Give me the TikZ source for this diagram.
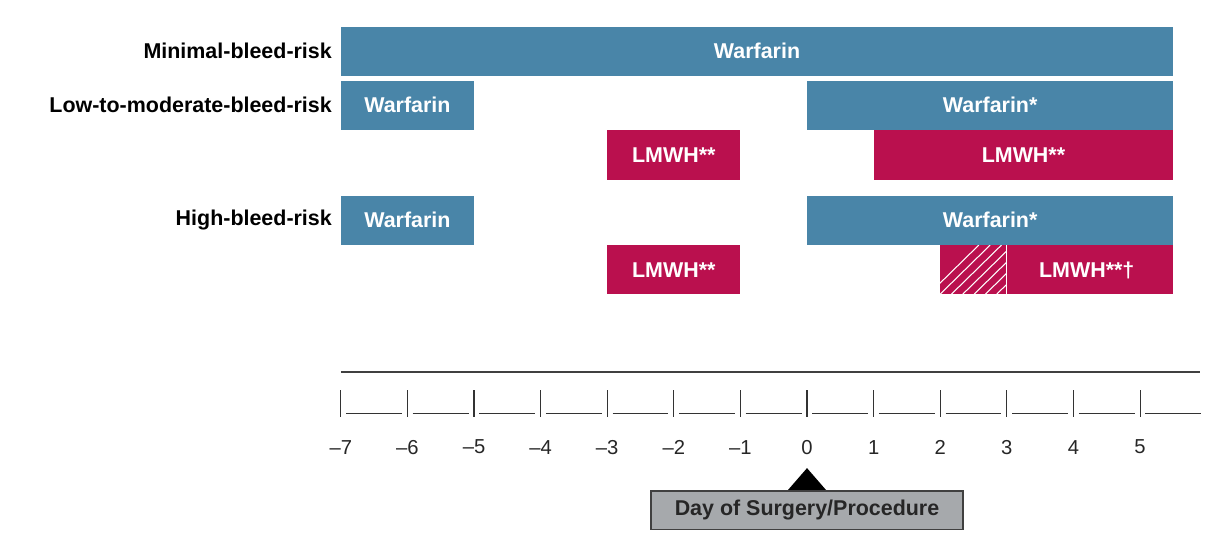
\documentclass[tikz,border=0pt]{standalone}
\usepackage{fontspec}
\setmainfont{Liberation Sans}
\definecolor{warfblue}{RGB}{73,133,168}
\definecolor{lmwhred}{RGB}{186,16,78}
\definecolor{daygray}{RGB}{166,169,172}
\begin{document}
\begin{tikzpicture}[x=1.332cm, y=-0.02cm, shift={(16.14cm,0)},
    font=\fontsize{12.2}{14}\selectfont\bfseries]
    \tikzstyle{warf}=[fill=warfblue,draw=none]
    \tikzstyle{lmwh}=[fill=lmwhred,draw=none]
    \tikzstyle{bartext}=[text=white]
    \tikzstyle{rowlabel}=[anchor=east,inner sep=0pt]
    \tikzstyle{daynum}=[font=\fontsize{11.5}{13}\selectfont,text=black!85]
    \useasboundingbox (-12.117,0) rectangle (6.156,554);

    % Row labels
    \node[rowlabel] (r1) at (-7.13,51) {Minimal-bleed-risk};
    \node[rowlabel] (r2) at (-7.13,105) {Low-to-moderate-bleed-risk};
    \node[rowlabel] (r3) at (-7.13,220) {High-bleed-risk};

    % Minimal bleed risk
    \fill[warf] (-7,27) rectangle (5.5,76);
    \node[bartext] (w1) at (-0.75,51) {Warfarin};

    % Low to moderate bleed risk
    \fill[warf] (-7,81) rectangle (-5,130);
    \node[bartext] (w2) at (-6,105) {Warfarin};
    \fill[warf] (0,81) rectangle (5.5,130);
    \node[bartext] (w3) at (2.75,105) {Warfarin*};
    \fill[lmwh] (-3,130) rectangle (-1,180);
    \node[bartext] (l1) at (-2,155) {LMWH**};
    \fill[lmwh] (1,130) rectangle (5.5,180);
    \node[bartext] (l2) at (3.25,155) {LMWH**};

    % High bleed risk
    \fill[warf] (-7,196) rectangle (-5,245);
    \node[bartext] (w4) at (-6,220) {Warfarin};
    \fill[warf] (0,196) rectangle (5.5,245);
    \node[bartext] (w5) at (2.75,220) {Warfarin*};
    \fill[lmwh] (-3,245) rectangle (-1,294);
    \node[bartext] (l3) at (-2,270) {LMWH**};
    \fill[lmwh] (2,245) rectangle (5.5,294);
    \begin{scope}
        \clip (2,245) rectangle (3,294);
        \foreach \s in {-1,...,8}
            \draw[white,line width=0.6pt] (2+0.17*\s,294) -- (2.75+0.17*\s,245);
    \end{scope}
    \draw[white,line width=0.4pt] (3,245) -- (3,294);
    \node[bartext] (l4) at (4.2,270) {LMWH**†};

    % Time axis
    \draw[black!75,line width=0.8pt] (-7,372) -- (5.9,372);
    \foreach \d in {-7,...,5}
        \draw[black!80,line width=0.6pt] (\d,390) -- (\d,417);
    \foreach \d in {-7,...,5}
        \draw[black!80,line width=0.6pt] (\d+0.08,413) -- (\d+0.92,413);
    \foreach \d in {-7,...,-1}
        \node[daynum] (t\d) at (\d,447) {–\the\numexpr-\d\relax};
    \foreach \d in {0,...,5}
        \node[daynum] (t\d) at (\d,447) {\d};

    % Day of surgery marker
    \fill[black] (0,468) -- (0.3,491) -- (-0.3,491) -- cycle;
    \node[fill=daygray,draw=black!75,line width=0.7pt,text=black!85,
          minimum width=6.24cm,minimum height=0.76cm,inner sep=0pt]
          (day) at (0,510) {Day of Surgery/Procedure};
\end{tikzpicture}
\end{document}
